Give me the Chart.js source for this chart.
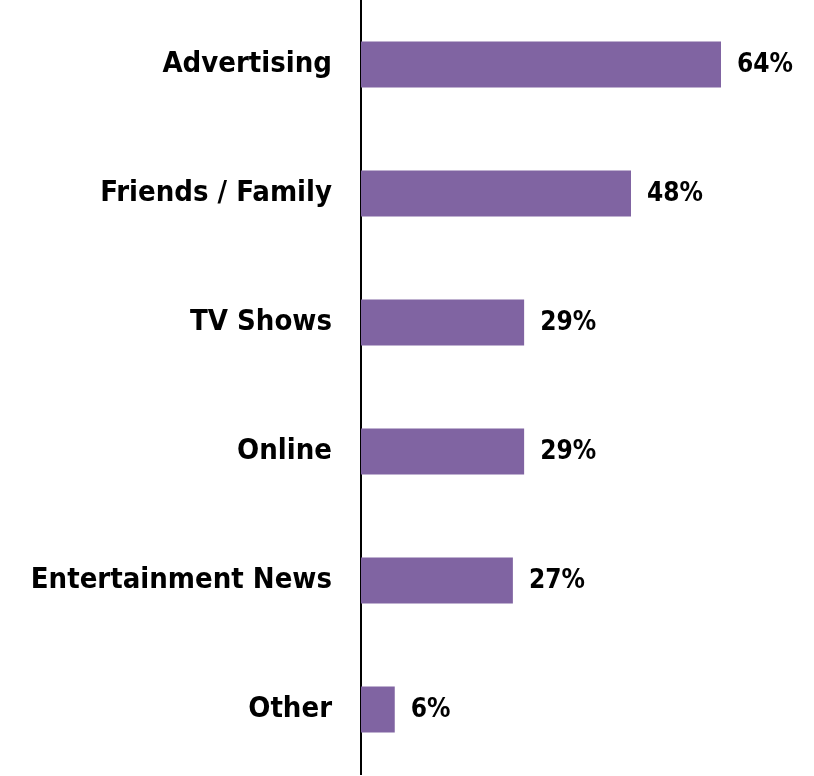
<!DOCTYPE html>
<html>
<head>
<meta charset="utf-8">
<script src="https://cdn.jsdelivr.net/npm/chart.js@4/dist/chart.umd.min.js"></script>
<style>
  html, body { margin: 0; padding: 0; background: #ffffff; }
  #wrap { width: 814px; height: 776px; position: relative; }
</style>
</head>
<body>
<div id="wrap"><canvas id="chart"></canvas></div>
<script>
// Sources named by respondents (share of respondents, %)
const categories = ["Advertising", "Friends / Family", "TV Shows", "Online", "Entertainment News", "Other"];
const shares = [64, 48, 29, 29, 27, 6];
const valueLabels = ["64%", "48%", "29%", "29%", "27%", "6%"];

const FONT_FAMILY = "'DejaVu Sans Condensed', 'DejaVu Sans', sans-serif";
const CATEGORY_FONT_SIZE = 29;
const VALUE_FONT_SIZE = 26;

// Writes each value label just past the end of its bar
const barValueLabels = {
  id: "barValueLabels",
  afterDatasetsDraw(chart) {
    const ctx = chart.ctx;
    const meta = chart.getDatasetMeta(0);
    ctx.save();
    ctx.font = "bold " + VALUE_FONT_SIZE + "px " + FONT_FAMILY;
    ctx.fillStyle = "#000000";
    ctx.textAlign = "left";
    ctx.textBaseline = "middle";
    meta.data.forEach((bar, i) => {
      ctx.fillText(valueLabels[i], bar.x + 16, bar.y + 1);
    });
    ctx.restore();
  }
};

new Chart(document.getElementById("chart"), {
  type: "bar",
  data: {
    labels: categories,
    datasets: [{
      data: shares,
      backgroundColor: "#8064A2",
      borderWidth: 0,
      categoryPercentage: 1.0,
      barPercentage: 0.357
    }]
  },
  options: {
    indexAxis: "y",
    responsive: true,
    maintainAspectRatio: false,
    animation: false,
    layout: { padding: { top: -1, right: 3, bottom: 2, left: 0 } },
    plugins: {
      legend: { display: false },
      tooltip: { enabled: false }
    },
    scales: {
      x: {
        display: false,
        min: 0,
        max: 80
      },
      y: {
        grid: { display: false, drawTicks: false },
        border: { display: true, color: "#000000", width: 2 },
        ticks: {
          color: "#000000",
          padding: 29,
          font: { family: FONT_FAMILY, size: CATEGORY_FONT_SIZE, weight: "bold" }
        },
        afterFit(scale) {
          // fixed label column; no extra space above/below the category band
          scale.width = 361;
          scale.paddingTop = 0;
          scale.paddingBottom = 0;
        }
      }
    }
  },
  plugins: [barValueLabels]
});
</script>
</body>
</html>
